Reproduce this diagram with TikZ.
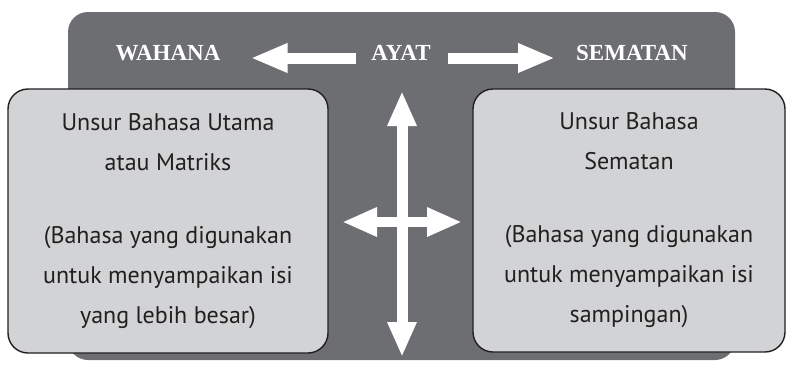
\documentclass[tikz,border=0pt]{standalone}
\usepackage{fontspec}
\setmainfont{Liberation Serif}
\newfontfamily\boxfont{PT Sans}
\usetikzlibrary{arrows.meta,positioning}
\definecolor{Slate}{HTML}{6D6E71}
\definecolor{Pale}{HTML}{D1D3D4}
\definecolor{Ink}{HTML}{231F20}
\tikzset{
langpanel/.style={fill=Slate, rounded corners=20pt},
langbox/.style={draw=Ink, line width=1.4pt, rounded corners=20pt, fill=Pale, align=center, text=Ink, inner sep=0pt, font=\boxfont\fontsize{24}{40}\selectfont},
langlabel/.style={text=white, inner sep=0pt, font=\bfseries\fontsize{23}{28}\selectfont},
langarrow/.style={draw=white, line width=11pt, -{Triangle[length=37pt,width=27pt]}},
langboth/.style={draw=white, line width=11pt, {Triangle[length=35pt,width=27pt]}-{Triangle[length=35pt,width=27pt]}}
}
\begin{document}
\begin{tikzpicture}[x=1pt, y=-1pt]
  \useasboundingbox (0,0) rectangle (786,365);
  \fill[langpanel] (68,12) rectangle (735,360);
  \node[langlabel] (wahana) at (168,53) {WAHANA};
  \node[langlabel] (ayat) at (401,53) {AYAT};
  \node[langlabel] (sematan) at (632,53) {SEMATAN};
  \node[langbox, minimum width=320pt, minimum height=264pt] (utama) at (168,221) {Unsur Bahasa Utama\\atau Matriks\\[33pt](Bahasa yang digunakan\\untuk menyampaikan isi\\yang lebih besar)};
  \node[langbox, minimum width=312pt, minimum height=263pt] (semat) at (629,220.5) {Unsur Bahasa\\Sematan\\[33pt](Bahasa yang digunakan\\untuk menyampaikan isi\\sampingan)};
  \coordinate (top) at (402,91);
  \coordinate (bottom) at (402,357);
  \coordinate (crossl) at (342,222);
  \coordinate (crossr) at (462,222);
  \draw[langarrow, shorten <=15pt, shorten >=30pt] ([yshift=-5pt]ayat.west) -- ([yshift=-5pt]wahana.east);
  \draw[langarrow, shorten <=17pt, shorten >=21pt] ([yshift=-5pt]ayat.east) -- ([yshift=-5pt]sematan.west);
  \draw[langboth] (top) -- (bottom);
  \draw[langboth, line width=10pt] (crossl) -- (crossr);
\end{tikzpicture}
\end{document}
